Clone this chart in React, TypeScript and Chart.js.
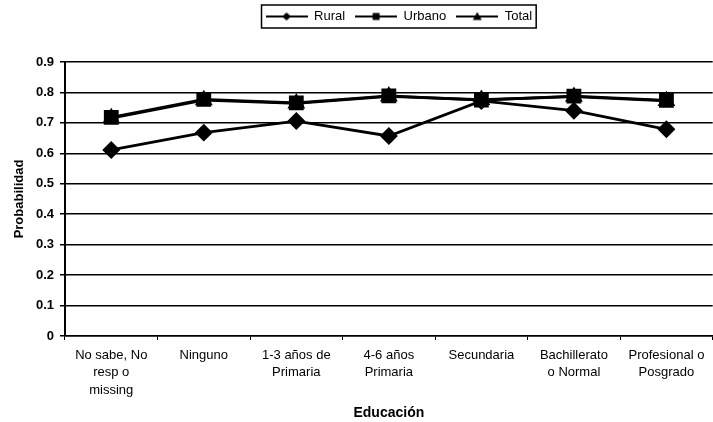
import React, { useEffect, useRef } from "react";
import { Chart, registerables } from "chart.js";

Chart.register(...registerables);

const categories: (string | string[])[] = [
  ["No sabe, No", "resp o", "missing"],
  "Ninguno",
  ["1-3 años de", "Primaria"],
  ["4-6 años", "Primaria"],
  "Secundaria",
  ["Bachillerato", "o Normal"],
  ["Profesional o", "Posgrado"],
];
const rural = [0.611, 0.668, 0.706, 0.657, 0.772, 0.74, 0.679];
const urbano = [0.718, 0.777, 0.766, 0.789, 0.775, 0.788, 0.774];
const total = [0.716, 0.775, 0.764, 0.787, 0.776, 0.786, 0.772];
const yTicks = [0, 0.1, 0.2, 0.3, 0.4, 0.5, 0.6, 0.7, 0.8, 0.9];

const FONT = "'Liberation Sans', Arial, sans-serif";
const LEGEND_SHIFT = 10;

function legendIcon(style: "rectRot" | "rect" | "triangle"): HTMLCanvasElement {
  const W = 42;
  const c = document.createElement("canvas");
  c.width = W;
  c.height = 12;
  const ctx = c.getContext("2d")!;
  const m = W / 2;
  ctx.strokeStyle = "#000";
  ctx.fillStyle = "#000";
  ctx.lineWidth = 2;
  ctx.beginPath();
  ctx.moveTo(0, 6);
  ctx.lineTo(W, 6);
  ctx.stroke();
  ctx.beginPath();
  if (style === "rectRot") {
    ctx.moveTo(m, 2);
    ctx.lineTo(m + 4.5, 6);
    ctx.lineTo(m, 10);
    ctx.lineTo(m - 4.5, 6);
  } else if (style === "rect") {
    ctx.rect(m - 3.5, 2.5, 7, 7);
  } else {
    ctx.moveTo(m, 1.5);
    ctx.lineTo(m + 4.5, 9.5);
    ctx.lineTo(m - 4.5, 9.5);
  }
  ctx.closePath();
  ctx.fill();
  return c;
}

const legendBox = {
  id: "legendBox",
  afterLayout(chart: any) {
    const lg = chart.legend;
    if (!lg || !lg.legendHitBoxes) return;
    lg.left += LEGEND_SHIFT;
    lg.right += LEGEND_SHIFT;
    for (const h of lg.legendHitBoxes) h.left += LEGEND_SHIFT;
  },
  afterDraw(chart: any) {
    const lg = chart.legend;
    if (!lg || !lg.legendHitBoxes || !lg.legendHitBoxes.length) return;
    const hb = lg.legendHitBoxes;
    let l = Infinity, r = -Infinity, t = Infinity, b = -Infinity;
    for (const h of hb) {
      l = Math.min(l, h.left);
      r = Math.max(r, h.left + h.width);
      t = Math.min(t, h.top);
      b = Math.max(b, h.top + h.height);
    }
    const ctx = chart.ctx;
    ctx.save();
    ctx.strokeStyle = "#000";
    ctx.lineWidth = 1.5;
    ctx.strokeRect(l - 4, t - 5, r - l + 8, b - t + 10);
    ctx.restore();
  },
};

export default function App() {
  const ref = useRef<HTMLCanvasElement>(null);
  useEffect(() => {
    if (!ref.current) return;
    const icons = [legendIcon("rectRot"), legendIcon("rect"), legendIcon("triangle")];
    const common = {
      borderColor: "#000",
      backgroundColor: "#000",
      borderWidth: 2.8,
      tension: 0,
    };
    const chart = new Chart(ref.current, {
      type: "line",
      data: {
        labels: categories,
        datasets: [
          { label: "Rural", data: rural, pointStyle: "rectRot", ...common, pointRadius: 7, pointHoverRadius: 7 },
          { label: "Urbano", data: urbano, pointStyle: "rect", ...common, pointRadius: 8.5, pointHoverRadius: 8.5 },
          { label: "Total", data: total, pointStyle: "triangle", ...common, pointRadius: 7.5, pointHoverRadius: 7.5 },
        ],
      },
      options: {
        animation: false,
        responsive: true,
        maintainAspectRatio: false,
        layout: { padding: 0 },
        plugins: {
          tooltip: { enabled: false },
          title: {
            display: true,
            text: " ",
            weight: 500,
            font: { size: 10 },
            padding: { top: 17, bottom: 0 },
          },
          legend: {
            display: true,
            position: "top",
            fullSize: false,
            labels: {
              usePointStyle: true,
              pointStyleWidth: 42,
              boxHeight: 12,
              padding: 10,
              color: "#000",
              font: { family: FONT, size: 13 },
              generateLabels: (ch: any) =>
                ch.data.datasets.map((d: any, i: number) => ({
                  text: d.label,
                  pointStyle: icons[i],
                  fillStyle: "#000",
                  strokeStyle: "#000",
                  lineWidth: 0,
                  fontColor: "#000",
                  hidden: false,
                  datasetIndex: i,
                })),
            },
          },
        },
        scales: {
          x: {
            offset: true,
            grid: {
              display: true,
              offset: true,
              drawOnChartArea: false,
              drawTicks: true,
              tickLength: 4,
              color: "#000",
              lineWidth: 1,
            },
            border: { display: true, color: "#000", width: 1.5 },
            ticks: {
              color: "#000",
              font: { family: FONT, size: 13, lineHeight: 1.38 },
              maxRotation: 0,
              autoSkip: false,
              padding: 6,
            },
            title: {
              display: true,
              text: "Educación",
              color: "#000",
              font: { family: FONT, size: 14, weight: "bold" },
              padding: { top: 12, bottom: 0 },
            },
            afterFit: (s: any) => {
              s.height = 86;
            },
          },
          y: {
            min: 0,
            max: 0.9,
            afterBuildTicks: (s: any) => {
              s.ticks = yTicks.map((v) => ({ value: v }));
            },
            grid: {
              color: "#000",
              lineWidth: 1.5,
              tickLength: 5,
            },
            border: { display: true, color: "#000", width: 2 },
            ticks: {
              color: "#000",
              font: { family: FONT, size: 13, weight: "bold" },
              padding: 6,
              callback: (v: any) => String(Math.round(Number(v) * 10) / 10),
            },
            title: {
              display: true,
              text: "Probabilidad",
              color: "#000",
              font: { family: FONT, size: 13, weight: "bold" },
              padding: { top: 12, bottom: 4 },
            },
            afterFit: (s: any) => {
              s.width = 65;
            },
          },
        },
      },
      plugins: [legendBox],
    });
    return () => chart.destroy();
  }, []);
  return (
    <div style={{ position: "absolute", left: 0, top: 0, width: 713, height: 422, overflow: "hidden", background: "#fff" }}>
      <div style={{ position: "relative", width: 724, height: 422 }}>
        <canvas ref={ref} />
      </div>
    </div>
  );
}
